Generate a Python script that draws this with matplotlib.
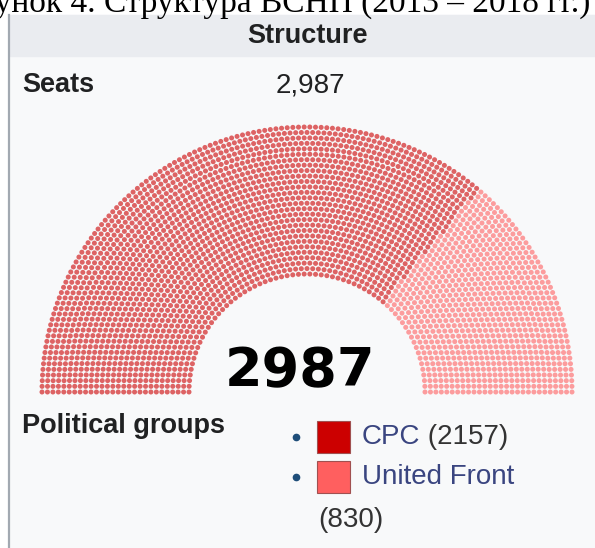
import numpy as np
import matplotlib.pyplot as plt
from matplotlib.patches import Rectangle

# parliament data
parties = ["CPC", "United Front"]
seats = [2157, 830]
colors = ["#cc0000", "#ff5f5f"]
total = sum(seats)

caption = "Рисунок 4. Структура ВСНП (2013 – 2018 гг.)"

# layout of the hemicycle (pixel units)
cx, cy = 307, 392
r_in, r_out = 118, 265
n_rows = 28

radii = np.linspace(r_in, r_out, n_rows)
share = radii / radii.sum() * total
per_row = np.floor(share).astype(int)
rest = total - per_row.sum()
order = np.argsort(-(share - per_row))
per_row[order[:rest]] += 1

xs, ys, angs = [], [], []
for r, n in zip(radii, per_row):
    a = np.linspace(np.pi, 0, n)
    xs.append(cx + r * np.cos(a))
    ys.append(cy - r * np.sin(a))
    angs.append(a)
xs = np.concatenate(xs)
ys = np.concatenate(ys)
angs = np.concatenate(angs)
idx = np.argsort(-angs, kind="stable")
xs, ys = xs[idx], ys[idx]
seat_colors = np.repeat(colors, seats)

fig = plt.figure(figsize=(5.95, 5.48), dpi=100)
fig.patch.set_facecolor("white")
ax = fig.add_axes([0, 0, 1, 1])
ax.set_xlim(0, 595)
ax.set_ylim(548, 0)
ax.axis("off")

# infobox background
ax.add_patch(Rectangle((10, 15), 590, 540, color="#f8f9fa", zorder=0))
ax.add_patch(Rectangle((10, 15), 590, 41, color="#eaecf0", zorder=0))
ax.plot([9, 9], [15, 548], color="#a2a9b1", lw=1.6, zorder=1)

ax.text(590, 12, caption, family="Liberation Serif", fontsize=24,
        ha="right", va="baseline", color="black")

lab = dict(family="Liberation Sans", color="#202122")
ax.text(308, 36, "Structure", fontsize=19.5, fontweight="bold", ha="center", va="center", **lab)
ax.text(22, 85, "Seats", fontsize=19.5, fontweight="bold", ha="left", va="center", **lab)
ax.text(310, 85, f"{total:,}", fontsize=20, ha="center", va="center", **lab)

ax.scatter(xs, ys, s=13, c=seat_colors, linewidths=0, alpha=0.6, zorder=2)

ax.text(cx - 7, 386, str(total), family="DejaVu Sans", fontweight="bold",
        fontsize=39, ha="center", va="baseline", color="black")

ax.text(22, 426, "Political groups", fontsize=19.5, fontweight="bold", ha="left", va="center", **lab)

legend_y = [437, 477]
for name, n, col, y in zip(parties, seats, colors, legend_y):
    ax.plot(296, y, "o", ms=4.5, color="#1f4e79")
    ax.add_patch(Rectangle((317, y - 16), 33, 32, facecolor=col, edgecolor="#a05050", lw=0.8))
    t = ax.text(362, y, name, fontsize=20, ha="left", va="center",
                family="Liberation Sans", color="#3a4580")
    if name == "CPC":
        ax.annotate(f" ({n})", xycoords=t, xy=(1, 0.5), va="center", ha="left",
                    fontsize=20, family="Liberation Sans", color="#333333")
    else:
        ax.text(318, 520, f"({n})", fontsize=20, ha="left", va="center",
                family="Liberation Sans", color="#333333")

fig.savefig("out.png", dpi=100)
